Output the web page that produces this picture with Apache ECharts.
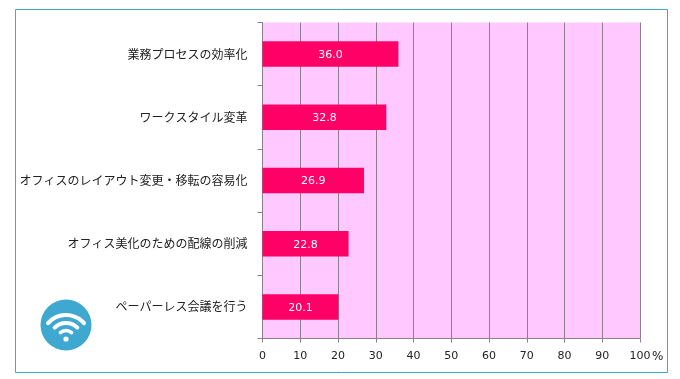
<!DOCTYPE html>
<html>
<head>
<meta charset="utf-8">
<style>
  html, body { margin: 0; padding: 0; background: #fff; }
  #chart { width: 680px; height: 379px; }
</style>
<script src="https://cdn.jsdelivr.net/npm/echarts@6/dist/echarts.min.js"></script>
</head>
<body>
<div id="chart"></div>
<script>
  const categories = [
    '業務プロセスの効率化',
    'ワークスタイル変革',
    'オフィスのレイアウト変更・移転の容易化',
    'オフィス美化のための配線の削減',
    'ペーパーレス会議を行う'
  ];
  const values = [36.0, 32.8, 26.9, 22.8, 20.1];
  const tickMax = 100;
  const tickStep = 10;

  const font = '"Noto Sans CJK JP", sans-serif';
  const axisGray = '#8c7f8c';

  const myChart = echarts.init(document.getElementById('chart'));

  myChart.setOption({
    animation: false,
    backgroundColor: '#ffffff',
    grid: {
      left: 262.5,
      top: 22.5,
      width: 377.5,
      height: 316,
      show: true,
      backgroundColor: '#ffc9ff',
      borderWidth: 0
    },
    xAxis: {
      type: 'value',
      min: 0,
      max: tickMax,
      interval: tickStep,
      axisLine: { show: true, lineStyle: { color: axisGray, width: 1 } },
      axisTick: { show: true, length: 4, lineStyle: { color: axisGray } },
      splitLine: { show: true, lineStyle: { color: axisGray, width: 1 } },
      axisLabel: { color: '#222', fontSize: 11, fontFamily: 'DejaVu Sans', margin: 12 }
    },
    yAxis: {
      type: 'category',
      inverse: true,
      data: categories,
      axisLine: { show: true, lineStyle: { color: axisGray, width: 1 } },
      axisTick: { show: true, length: 5, alignWithLabel: false, lineStyle: { color: axisGray } },
      axisLabel: { color: '#222', fontSize: 12, fontFamily: font, margin: 15 }
    },
    series: [
      {
        type: 'bar',
        data: values,
        barWidth: 25.5,
        itemStyle: { color: '#ff0066' },
        label: {
          show: true,
          position: 'inside',
          color: '#ffffff',
          fontSize: 11,
          fontFamily: 'DejaVu Sans',
          offset: [0, 1],
          formatter: function (params) {
            return params.value.toFixed(1);
          }
        }
      }
    ],
    graphic: [
      // 外枠
      {
        type: 'rect',
        silent: true,
        shape: { x: 15.5, y: 9.5, width: 652, height: 363 },
        style: { fill: 'none', stroke: '#3fa9cf', lineWidth: 1 }
      },
      {
        type: 'text',
        left: 652,
        top: 351,
        style: { text: '%', fill: '#222', font: '12px "DejaVu Sans"' }
      },
      // Wi-Fiアイコン
      {
        type: 'group',
        silent: true,
        children: [
          { type: 'circle', shape: { cx: 66, cy: 325, r: 25.5 }, style: { fill: '#3ea8d0' } },
          { type: 'arc', shape: { cx: 66, cy: 339, r: 24, startAngle: -Math.PI * 0.77, endAngle: -Math.PI * 0.23 }, style: { fill: 'none', stroke: '#ffffff', lineWidth: 4, lineCap: 'round' } },
          { type: 'arc', shape: { cx: 66, cy: 339, r: 16, startAngle: -Math.PI * 0.75, endAngle: -Math.PI * 0.25 }, style: { fill: 'none', stroke: '#ffffff', lineWidth: 4, lineCap: 'round' } },
          { type: 'arc', shape: { cx: 66, cy: 339, r: 8.5, startAngle: -Math.PI * 0.73, endAngle: -Math.PI * 0.27 }, style: { fill: 'none', stroke: '#ffffff', lineWidth: 3.5, lineCap: 'round' } },
          { type: 'circle', shape: { cx: 66, cy: 339, r: 2.6 }, style: { fill: '#ffffff' } }
        ]
      }
    ]
  });
</script>
</body>
</html>
